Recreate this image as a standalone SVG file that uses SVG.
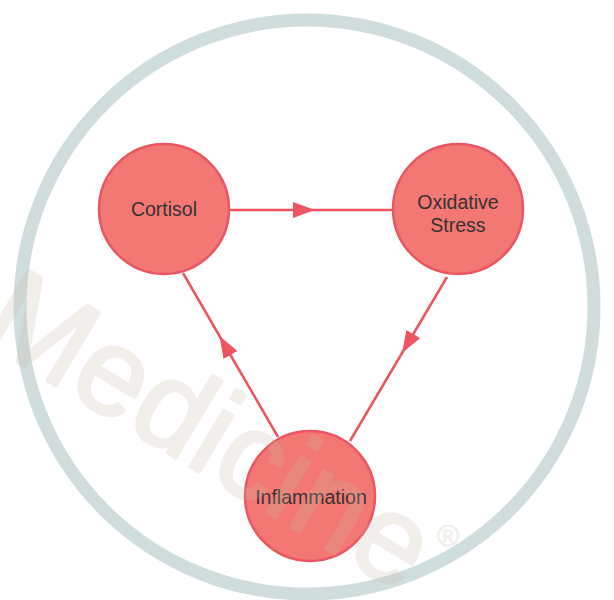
<svg xmlns="http://www.w3.org/2000/svg" width="614" height="600" viewBox="0 0 614 600">
  <style>
    .node circle { fill: #f37873; stroke: #ec5562; stroke-width: 2.5; }
    .node text { font-family: "Liberation Sans", Arial, sans-serif; font-size: 19.5px; fill: #333333; text-anchor: middle; }
    .edge { fill: none; stroke: #ee5561; stroke-width: 2.5; marker-mid: url(#arrow); }
    .wm { font-family: "Liberation Sans", Arial, sans-serif; fill: #c8b8a8; stroke: #c8b8a8; stroke-linejoin: round; }
  </style>
  <defs>
    <marker id="arrow" viewBox="0 0 22 16" refX="0" refY="8" markerWidth="22" markerHeight="16" markerUnits="userSpaceOnUse" orient="auto">
      <path d="M0,0 L22,8 L0,16 z" fill="#ee5561"/>
    </marker>
  </defs>
  <rect width="614" height="600" fill="#ffffff"/>
  <circle id="ring" cx="307" cy="307" r="287" fill="none" stroke="#cfdedc" stroke-width="13"/>
  <g id="connectors">
    <path class="edge" d="M229,210 L293,210 L393,210"/>
    <path class="edge" d="M278,437 L230.5,355 L183,273"/>
    <path class="edge" d="M447,277 L413.3,334 L350,441"/>
  </g>
  <g id="cortisol" class="node">
    <circle cx="164" cy="209" r="65"/>
    <text x="164" y="216">Cortisol</text>
  </g>
  <g id="oxidative-stress" class="node">
    <circle cx="458" cy="209" r="65"/>
    <text x="458" y="209">Oxidative</text>
    <text x="458" y="232">Stress</text>
  </g>
  <g id="inflammation" class="node">
    <circle cx="310" cy="496" r="65"/>
    <text x="311" y="504">Inflammation</text>
  </g>
  <g id="watermark" opacity="0.22">
    <text class="wm" transform="translate(-24,338) rotate(31)" font-size="124" stroke-width="3">Medicine</text>
    <text class="wm" x="448" y="546" font-size="30" stroke-width="1" text-anchor="middle">®</text>
  </g>
</svg>
